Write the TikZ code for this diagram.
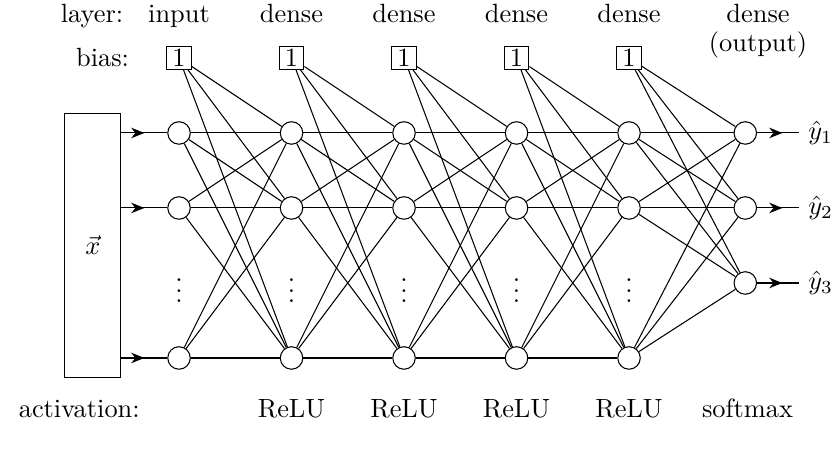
\documentclass[tikz,border=0pt]{standalone}
\usepackage{amsmath,amssymb}
\usepackage{xcolor}
\usepackage{tikz}
\usetikzlibrary{arrows.meta,positioning,decorations.markings}

\tikzset{
    neuron/.style={circle,draw,fill=white,minimum size=0.3cm,inner sep=0pt},
    biasbox/.style={rectangle,draw,inner sep=1pt,minimum width=0.33cm,minimum height=0.29cm},
    midarrow/.style={postaction={decorate},decoration={markings,mark=at position #1 with {\arrow{Stealth[length=5pt,width=4pt]}}}},
}

\begin{document}
\begin{tikzpicture}
    \useasboundingbox (-2.387,-4.213) rectangle (8.733,1.773);

    % Neurons and bias units
    \foreach \l in {0,...,4} {
        \node[neuron] (n\l-1) at (1.5*\l,0) {};
        \node[neuron] (n\l-2) at (1.5*\l,-1) {};
        \node[neuron] (n\l-4) at (1.5*\l,-3) {};
        \node (d\l) at (1.5*\l,-2) {$\vdots$};
        \node[biasbox] (b\l) at (1.5*\l,1) {1};
    }
    \foreach \i in {1,2,3} \node[neuron] (o\i) at (7.55,1-\i) {};

    % Weights
    \foreach \l in {0,...,3} {
        \pgfmathtruncatemacro{\m}{\l+1}
        \foreach \i in {1,2,4} {
            \draw (b\l) -- (n\m-\i);
            \foreach \j in {1,2,4} \draw (n\l-\i) -- (n\m-\j);
        }
    }
    \foreach \j in {1,2,3} {
        \draw (b4) -- (o\j);
        \foreach \i in {1,2,4} \draw (n4-\i) -- (o\j);
    }

    % Input and output
    \node[draw,minimum width=0.75cm,minimum height=3.53cm] (x) at (-1.15,-1.5) {$\vec{x}$};
    \foreach \i in {1,2,4} \draw[midarrow=0.5] (x.east |- n0-\i) -- (n0-\i);
    \foreach \i in {1,2,3} {
        \node[right,inner sep=0pt,outer sep=0.12cm] (y\i) at (8.27,1-\i) {$\hat{y}_\i$};
        \draw[midarrow=0.6] (o\i) -- (y\i.west);
    }

    % Labels
    \node[anchor=base east] (lay) at (-0.62,1.47) {layer:};
    \node[left=0.37cm of b0] (bia) {bias:};
    \node[anchor=base] (t0) at (0,1.47) {input};
    \foreach \l in {1,...,4} {
        \node[anchor=base] (t\l) at (1.5*\l,1.47) {dense};
        \node[anchor=base] (a\l) at (1.5*\l,-3.8) {ReLU};
    }
    \node[anchor=base] (t5) at (7.72,1.47) {dense};
    \node[anchor=base] (t5b) at (7.72,1.09) {(output)};
    \node[anchor=base west] (act) at (-2.26,-3.8) {activation:};
    \node[anchor=base] (a5) at (7.58,-3.8) {softmax};
\end{tikzpicture}
\end{document}
